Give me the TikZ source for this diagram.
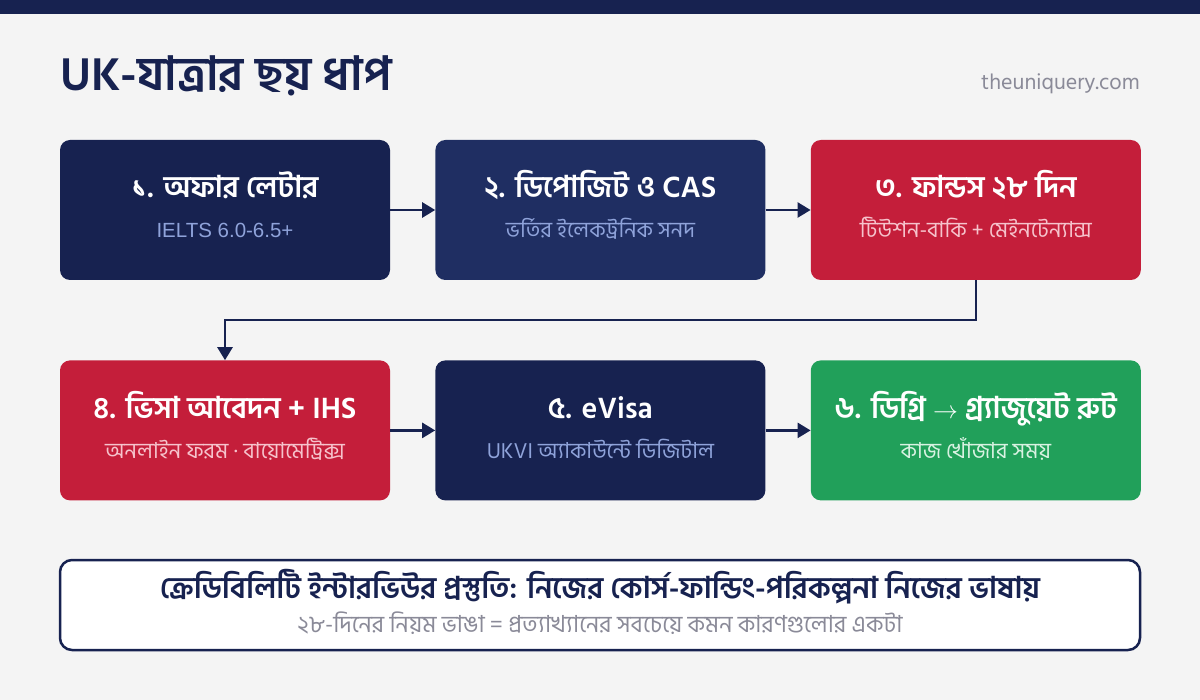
\documentclass[tikz,border=0pt]{standalone}
\usepackage{fontspec}
\setmainfont{Hind Siliguri}[Script=Bengali]
\newfontfamily\arialfont{Liberation Sans}
\usetikzlibrary{positioning,arrows.meta}

\definecolor{navy}{HTML}{172250}
\definecolor{navylight}{HTML}{1F2E62}
\definecolor{crimson}{HTML}{C41E3A}
\definecolor{leaf}{HTML}{21A05A}
\definecolor{paper}{HTML}{F4F4F4}
\definecolor{bluegray}{HTML}{8FA3DA}
\definecolor{blush}{HTML}{F6C3CC}
\definecolor{mint}{HTML}{D9F2E2}
\definecolor{slate}{HTML}{8A8A98}

\begin{document}
\begin{tikzpicture}[
  x=1pt, y=-1pt,
  node distance=80pt and 45pt,
  stagebox/.style={rounded corners=10pt, minimum width=330pt, minimum height=140pt, inner sep=0pt},
  headtext/.style={anchor=base, inner sep=0pt, text=white, font=\bfseries\fontsize{30}{34}\selectfont},
  subtext/.style={anchor=base, inner sep=0pt, font=\fontsize{22}{26}\selectfont},
  flow/.style={draw=navy, line width=2.5pt, -{Triangle[length=13pt,width=15pt]}}
]
% page
\fill[paper] (0,0) rectangle (1200,700);
\fill[navy] (0,0) rectangle (1200,14);
\node[anchor=base west, inner sep=0pt, text=navy, font=\bfseries\fontsize{47}{52}\selectfont] (title) at (60,91) {UK-যাত্রার ছয় ধাপ};
\node[anchor=base east, inner sep=0pt, text=slate, font=\fontsize{22}{26}\selectfont] (site) at (1140,90) {theuniquery.com};

% row 1
\node[stagebox, fill=navy] (b1) at (225,210) {};
\node[stagebox, fill=navylight, right=of b1] (b2) {};
\node[stagebox, fill=crimson, right=of b2] (b3) {};
% row 2
\node[stagebox, fill=crimson, below=of b1] (b4) {};
\node[stagebox, fill=navy, right=of b4] (b5) {};
\node[stagebox, fill=leaf, right=of b5] (b6) {};

\node[headtext] (h1) at ([yshift=12pt]b1.center) {১. অফার লেটার};
\node[subtext, text=bluegray] (s1) at ([yshift=-28pt]b1.center) {\arialfont\fontsize{20.5}{24}\selectfont IELTS 6.0-6.5+};
\node[headtext] (h2) at ([yshift=12pt]b2.center) {২. ডিপোজিট ও CAS};
\node[subtext, text=bluegray] (s2) at ([yshift=-28pt]b2.center) {ভর্তির ইলেকট্রনিক সনদ};
\node[headtext] (h3) at ([yshift=12pt]b3.center) {৩. ফান্ডস ২৮ দিন};
\node[subtext, text=blush] (s3) at ([yshift=-28pt]b3.center) {টিউশন-বাকি + মেইনটেন্যান্স};
\node[headtext] (h4) at ([yshift=12pt]b4.center) {৪. ভিসা আবেদন + IHS};
\node[subtext, text=blush] (s4) at ([yshift=-28pt]b4.center) {অনলাইন ফরম · বায়োমেট্রিক্স};
\node[headtext] (h5) at ([yshift=12pt]b5.center) {৫. eVisa};
\node[subtext, text=bluegray] (s5) at ([yshift=-28pt]b5.center) {UKVI অ্যাকাউন্টে ডিজিটাল};
\node[headtext] (h6) at ([yshift=12pt]b6.center) {৬. ডিগ্রি $\rightarrow$ গ্র্যাজুয়েট রুট};
\node[subtext, text=mint] (s6) at ([yshift=-28pt]b6.center) {কাজ খোঁজার সময়};

% arrows
\draw[flow] (b1) -- (b2);
\draw[flow] (b2) -- (b3);
\draw[flow] (b3.south) -- ++(0,40) -| (b4.north);
\draw[flow] (b4) -- (b5);
\draw[flow] (b5) -- (b6);

% note
\node[draw=navy, line width=2.5pt, fill=white, rounded corners=12pt, minimum width=1080pt, minimum height=90pt] (note) at (600,605) {};
\node[anchor=base, inner sep=0pt, text=navy, font=\bfseries\fontsize{30}{34}\selectfont] (n1) at ([yshift=7pt]note.center) {ক্রেডিবিলিটি ইন্টারভিউর প্রস্তুতি: নিজের কোর্স-ফান্ডিং-পরিকল্পনা নিজের ভাষায়};
\node[subtext, text=slate, font=\fontsize{23.5}{27}\selectfont] (n2) at ([yshift=-27pt]note.center) {২৮-দিনের নিয়ম ভাঙা = প্রত্যাখ্যানের সবচেয়ে কমন কারণগুলোর একটা};
\end{tikzpicture}
\end{document}
